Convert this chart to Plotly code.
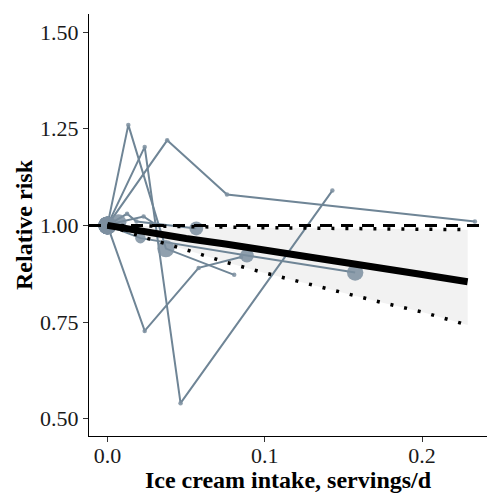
import plotly.graph_objects as go
import math

# ---- pooled dose-response curve ----
curve_dose = [0, 0.025, 0.05, 0.075, 0.1, 0.125, 0.15, 0.175, 0.2, 0.229]
curve_rr = [1.0, 0.982, 0.966, 0.952, 0.937, 0.922, 0.906, 0.89, 0.873, 0.854]
curve_lower = [1.0, 0.967, 0.937, 0.905, 0.877, 0.851, 0.826, 0.80, 0.776, 0.742]
curve_upper = [1.0, 0.998, 0.996, 0.995, 0.994, 0.993, 0.992, 0.991, 0.99, 0.989]

# ---- individual studies ----
s1_dose = [0, 0.0133, 0.0372, 0.0806]
s1_rr = [1.0, 1.26, 0.94, 0.872]
s1_w = [100, 1, 90, 1]

s2_dose = [0, 0.0237, 0.0465, 0.143]
s2_rr = [1.0, 1.203, 0.54, 1.09]
s2_w = [100, 1, 1, 1]

s3_dose = [0, 0.038, 0.076, 0.2336]
s3_rr = [1.0, 1.22, 1.08, 1.01]
s3_w = [100, 1, 1, 1]

s4_dose = [0, 0.0237, 0.058, 0.085]
s4_rr = [1.0, 0.727, 0.89, 0.918]
s4_w = [100, 1, 1, 1]

s5_dose = [0, 0.021, 0.0887, 0.1575]
s5_rr = [1.0, 0.967, 0.922, 0.878]
s5_w = [100, 25, 52, 80]

s6_dose = [0, 0.0125, 0.0185, 0.0565]
s6_rr = [1.0, 1.03, 1.01, 0.992]
s6_w = [100, 1, 1, 52]

s7_dose = [0, 0.007, 0.023, 0.03]
s7_rr = [1.0, 1.008, 1.023, 1.004]
s7_w = [100, 75, 1, 1]

studies = [
    (s1_dose, s1_rr, s1_w), (s2_dose, s2_rr, s2_w), (s3_dose, s3_rr, s3_w),
    (s4_dose, s4_rr, s4_w), (s5_dose, s5_rr, s5_w), (s6_dose, s6_rr, s6_w),
    (s7_dose, s7_rr, s7_w),
]

x_ticks = [0.0, 0.1, 0.2]
x_tick_labels = ["0.0", "0.1", "0.2"]
y_ticks = [0.5, 0.75, 1.0, 1.25, 1.5]
y_tick_labels = ["0.50", "0.75", "1.00", "1.25", "1.50"]

line_col = "#6f8596"
pt_col = "#7d8fa0"
FONT = "Liberation Serif, Times New Roman, serif"

fig = go.Figure()

# confidence ribbon
fig.add_trace(go.Scatter(x=curve_dose, y=curve_upper, mode="lines",
                         line=dict(width=0, color="rgba(0,0,0,0)"),
                         showlegend=False, hoverinfo="skip"))
fig.add_trace(go.Scatter(x=curve_dose, y=curve_lower, mode="lines",
                         line=dict(width=0, color="rgba(0,0,0,0)"),
                         fill="tonexty", fillcolor="#f2f2f2",
                         showlegend=False, hoverinfo="skip"))

# study lines
for d, r, w in studies:
    fig.add_trace(go.Scatter(x=d, y=r, mode="lines",
                             line=dict(color=line_col, width=2),
                             showlegend=False, hoverinfo="skip"))
# study points
for d, r, w in studies:
    sizes = [3 + 1.5 * math.sqrt(v) for v in w]
    fig.add_trace(go.Scatter(x=d, y=r, mode="markers",
                             marker=dict(color=pt_col, size=sizes, opacity=0.85,
                                         line=dict(width=0)),
                             showlegend=False, hoverinfo="skip"))

# reference line at RR = 1
fig.add_trace(go.Scatter(x=[-0.0117, 0.2413], y=[1.0, 1.0], mode="lines",
                         line=dict(color="black", width=3, dash="12px,9px"),
                         showlegend=False, hoverinfo="skip"))
# CI bounds
for b in (curve_upper, curve_lower):
    fig.add_trace(go.Scatter(x=curve_dose, y=b, mode="lines",
                             line=dict(color="black", width=3.5, dash="3px,11px"),
                             showlegend=False, hoverinfo="skip"))
# pooled curve
fig.add_trace(go.Scatter(x=curve_dose, y=curve_rr, mode="lines",
                         line=dict(color="black", width=7),
                         showlegend=False, hoverinfo="skip"))

fig.update_layout(
    width=487, height=493,
    margin=dict(l=89, r=0, t=14, b=57),
    plot_bgcolor="white", paper_bgcolor="white",
    font=dict(family=FONT, color="#1a1a1a", size=22),
)
fig.update_xaxes(range=[-0.0117, 0.2413], tickvals=x_ticks, ticktext=x_tick_labels,
                 showgrid=False, zeroline=False, showline=True, linecolor="black",
                 linewidth=1.2, ticks="outside", ticklen=5, tickcolor="#333",
                 ticklabelstandoff=-6,
                 tickfont=dict(family=FONT, size=22, color="#1a1a1a"),
                 title=dict(text="<b>Ice cream intake, servings/d</b>",
                            font=dict(family=FONT, size=24, color="black"), standoff=0))
fig.update_yaxes(range=[0.455, 1.547], tickvals=y_ticks, ticktext=y_tick_labels,
                 showgrid=False, zeroline=False, showline=True, linecolor="black",
                 linewidth=1.2, ticks="outside", ticklen=5, tickcolor="#333",
                 tickfont=dict(family=FONT, size=22, color="#1a1a1a"),
                 title=dict(text="<b>Relative risk</b>",
                            font=dict(family=FONT, size=24, color="black"), standoff=0))

fig.write_html("out.html")
